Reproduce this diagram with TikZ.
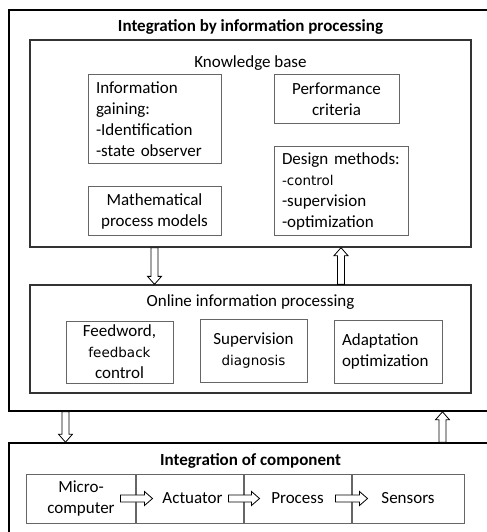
\documentclass[tikz,border=0pt]{standalone}
\usepackage{fontspec}
\setmainfont{Carlito}
\newfontfamily\altfont{DejaVu Sans}
\usetikzlibrary{calc, fit}

\begin{document}
\begin{tikzpicture}[x=1bp, y=-1bp, font=\fontsize{17bp}{21bp}\selectfont]
\tikzset{box/.style={draw=black!60, line width=1bp, inner sep=0pt, align=center},
  lbox/.style={box, align=left, inner xsep=8bp},
  frame/.style={draw=black!80, line width=1.3bp, inner sep=0pt},
  outerframe/.style={draw=black, line width=1.6bp, inner sep=0pt},
  blockarrow/.style={draw=black, fill=white, line width=0.8bp, line join=miter,
    to path={($(\tikztostart)!3.5bp!90:(\tikztotarget)$)
      -- ($(\tikztotarget)!8bp!(\tikztostart)!3.5bp!-90:(\tikztostart)$)
      -- ($(\tikztotarget)!8bp!(\tikztostart)!7bp!-90:(\tikztostart)$)
      -- (\tikztotarget)
      -- ($(\tikztotarget)!8bp!(\tikztostart)!7bp!90:(\tikztostart)$)
      -- ($(\tikztotarget)!8bp!(\tikztostart)!3.5bp!90:(\tikztostart)$)
      -- ($(\tikztostart)!3.5bp!-90:(\tikztotarget)$) -- cycle}}}
\newcommand{\alt}[1]{{\altfont\fontsize{13.5bp}{21bp}\selectfont #1}}

% Normalize bounding box
\useasboundingbox (0,0) rectangle (487,532);
\clip (0,0) rectangle (487,532);

% frames
\node[outerframe, minimum width=511bp, minimum height=401bp] (outer) at (264.5,210.5) {};
\node[outerframe, minimum width=511bp, minimum height=117bp] (bottom) at (264.5,501.5) {};
\node[frame, minimum width=441bp, minimum height=207bp] (kb) at (250.5,143.5) {};
\node[frame, minimum width=441bp, minimum height=108bp] (online) at (250.5,339) {};

% titles
\node[anchor=base, font=\fontsize{17bp}{21bp}\selectfont\bfseries] (outertitle) at ([yshift=-22bp]outer.north -| kb.north) {Integration by information processing};
\node[anchor=base] (kbtitle) at ([yshift=-28bp]kb.north) {Knowledge base};
\node[anchor=base] (onlinetitle) at ([yshift=-22bp]online.north) {Online information processing};
\node[anchor=base, font=\fontsize{17bp}{21bp}\selectfont\bfseries] (bottomtitle) at ([yshift=-23bp]bottom.north -| kb.north) {Integration of component};

% knowledge base
\node[lbox, text width=117bp, minimum height=89bp] (info) at (154.5,119.5) {Information\\gaining:\\-Identification\\-state observer};
\node[box, minimum width=125bp, minimum height=49bp] (perf) at (336.5,99.5) {Performance\\criteria};
\node[box, minimum width=133bp, minimum height=48bp] (math) at (154.5,211) {Mathematical\\process models};
\node[lbox, text width=118bp, minimum height=88bp] (design) at (341,191) {Design methods:\\\alt{-control}\\-supervision\\-optimization};

% online information processing
\node[box, minimum width=107bp, minimum height=62bp] (feed) at (119.5,352) {Feedword,\\\alt{feedback}\\control};
\node[box, minimum width=107bp, minimum height=63bp] (superv) at (253.5,350.5) {Supervision\\\alt{diagnosis}};
\node[lbox, text width=92bp, minimum height=63bp] (adapt) at (388,351.5) {Adaptation\\optimization};

% components
\node[box, minimum width=108bp, minimum height=49bp] (micro) at (81,498.5) {Micro-\\computer};
\node[box, minimum width=107bp, minimum height=49bp, anchor=west] (act) at (micro.east) {\hspace{6bp}Actuator};
\node[box, minimum width=107bp, minimum height=49bp, anchor=west] (proc) at (act.east) {Process};
\node[box, minimum width=112bp, minimum height=49bp, anchor=west] (sens) at (proc.east) {Sensors};

% connectors
\draw[blockarrow] (kb.south -| math) to (online.north -| math);
\draw[blockarrow] (online.north -| design) to (kb.south -| design);
\draw[blockarrow] (outer.south -| feed.west) to (bottom.north -| feed.west);
\draw[blockarrow] (bottom.north -| adapt.east) to (outer.south -| adapt.east);
\draw[blockarrow] ([xshift=-15bp]micro.east) to ([xshift=17bp]act.west);
\draw[blockarrow] ([xshift=-15bp]act.east) to ([xshift=16bp]proc.west);
\draw[blockarrow] ([xshift=-16bp]proc.east) to ([xshift=16bp]sens.west);

\end{tikzpicture}
\end{document}
